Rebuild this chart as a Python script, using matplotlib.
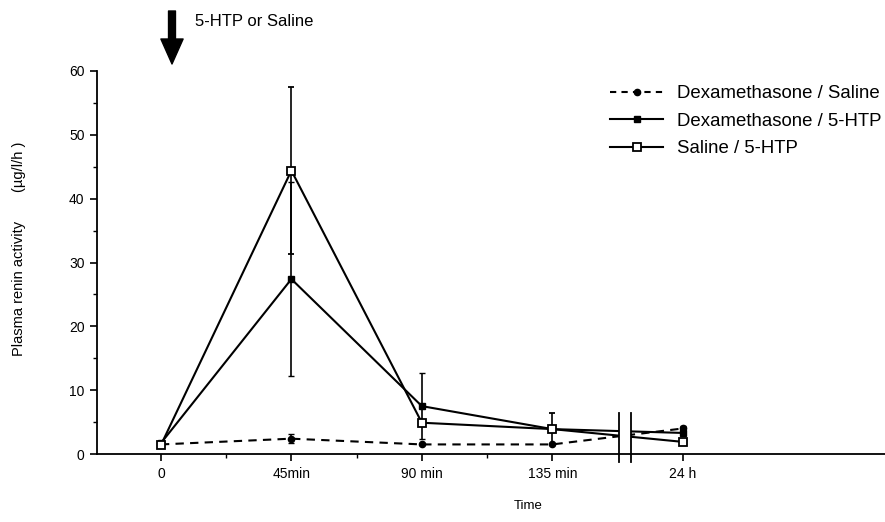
import numpy as np
import matplotlib.pyplot as plt
from matplotlib.lines import Line2D

plt.rcParams['font.family'] = ['Liberation Sans', 'DejaVu Sans']

# time points, plotted at evenly spaced slots (last one after the axis break)
time_labels = ['0', '45min', '90 min', '135 min', '24 h']
xpos = [0, 1, 2, 3, 4]

dexa_saline = [1.5, 2.4, 1.5, 1.5, 4.0]
dexa_saline_err = [0, 0.7, 0, 0, 0.4]
dexa_htp = [1.7, 27.4, 7.5, 3.9, 3.3]
dexa_htp_err = [0, 15.2, 5.2, 0, 0]
saline_htp = [1.4, 44.4, 4.9, 3.9, 1.9]
saline_htp_err = [0, 13.1, 0, 2.5, 0]

fig = plt.figure(figsize=(8.85, 5.22), dpi=100)
ax = fig.add_axes([97/885, 1-454/522, 1-97/885, (454-71)/522])

lw = 1.5
ax.errorbar(xpos, dexa_saline, yerr=dexa_saline_err, color='black', lw=lw,
            ls=(0, (4, 3)), marker='o', ms=4.5, mfc='black', capsize=2.5,
            elinewidth=1.2, zorder=3)
ax.errorbar(xpos, dexa_htp, yerr=dexa_htp_err, color='black', lw=lw,
            marker='s', ms=5, mfc='black', capsize=2.5, elinewidth=1.2, zorder=3)
ax.errorbar(xpos, saline_htp, yerr=saline_htp_err, color='black', lw=lw,
            marker='s', ms=5.5, mfc='white', mew=1.3, capsize=2.5,
            elinewidth=1.2, zorder=4)

# axis break between 135 min and 24 h
brk = [3.51, 3.60]
ax.axvspan(brk[0], brk[1], ymin=0.003, ymax=1, color='white', zorder=5, lw=0)
for b in brk:
    ax.plot([b, b], [-1.3, 6.5], color='black', lw=1.3, clip_on=False, zorder=6)

ax.set_xlim(-0.49, 5.55)
ax.set_ylim(0, 60)
ax.spines['top'].set_visible(False)
ax.spines['right'].set_visible(False)
ax.spines['left'].set_linewidth(1.3)
ax.spines['bottom'].set_linewidth(1.3)

ax.set_xticks(xpos)
ax.set_xticklabels(time_labels, fontsize=10)
ax.set_xticks([0.5, 1.5, 2.5], minor=True)
ax.set_yticks(np.arange(0, 61, 10))
ax.set_yticks(np.arange(5, 60, 10), minor=True)
ax.tick_params(axis='both', which='major', direction='out', length=5, width=1.2,
               labelsize=10, pad=4)
ax.tick_params(axis='both', which='minor', direction='out', length=3, width=1)

ax.set_ylabel('Plasma renin activity       (\u00b5g/l/h )', fontsize=10.5)
ax.yaxis.set_label_coords(-71/788, 0.535)
fig.text(528/885, 1-506/522, 'Time', fontsize=9.5, ha='center', va='center')

# legend
handles = [
    Line2D([], [], color='black', lw=lw, ls=(0, (3, 2.5)), marker='o', ms=4.5, mfc='black'),
    Line2D([], [], color='black', lw=lw, marker='s', ms=5, mfc='black'),
    Line2D([], [], color='black', lw=lw, marker='s', ms=5.5, mfc='white', mew=1.3),
]
names = ['Dexamethasone / Saline', 'Dexamethasone / 5-HTP', 'Saline / 5-HTP']
fig.legend(handles, names, loc='upper left', bbox_to_anchor=(603/885, 1-78/522),
           frameon=False, fontsize=13.4, handlelength=2.8, handletextpad=0.8,
           labelspacing=0.56, borderaxespad=0)

# injection arrow
ax.annotate('', xy=(172/885, 1-64/522), xytext=(172/885, 1-11/522),
            xycoords='figure fraction', textcoords='figure fraction',
            arrowprops=dict(facecolor='black', edgecolor='black', width=5,
                            headwidth=16, headlength=18, shrink=0))
fig.text(195/885, 1-21/522, '5-HTP or Saline', fontsize=12, ha='left', va='center')

fig.savefig('out.png', dpi=100)
